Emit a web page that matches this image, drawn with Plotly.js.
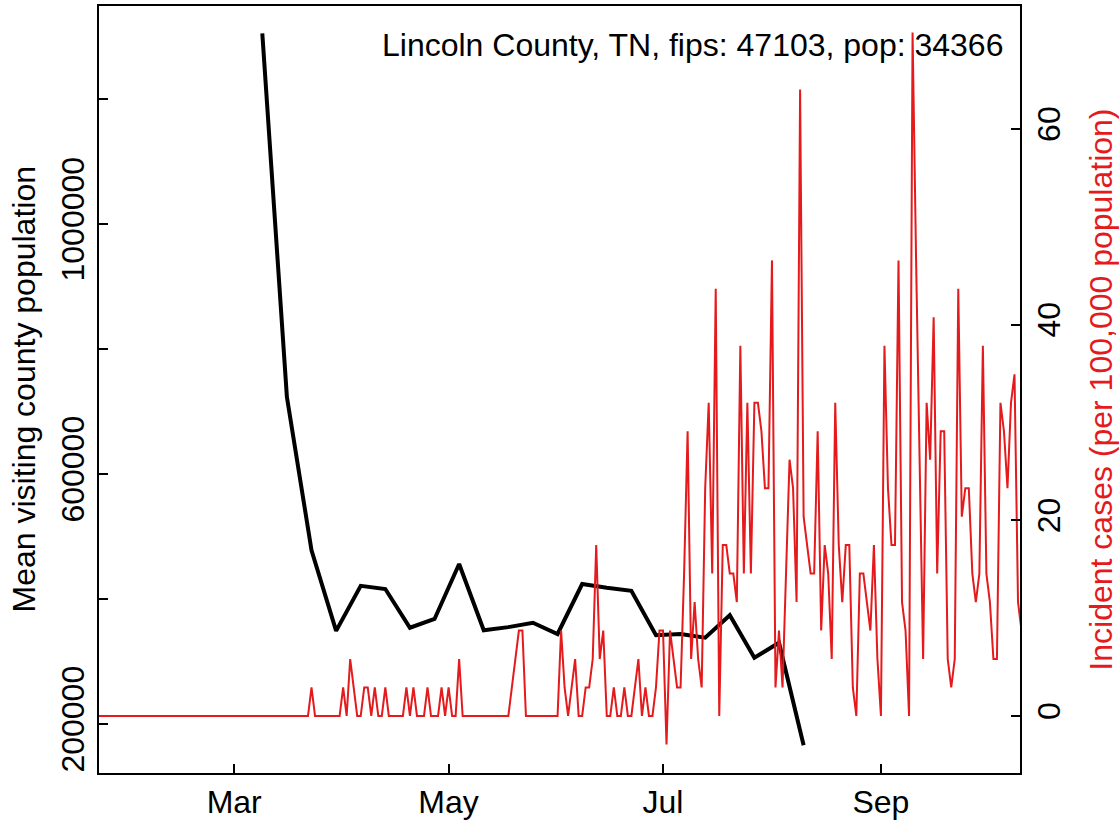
<!DOCTYPE html>
<html>
<head>
<meta charset="utf-8">
<script src="https://cdn.plot.ly/plotly-3.0.1.min.js"></script>
<style>html,body{margin:0;padding:0;background:#fff;}#chart{width:1119px;height:822px;}</style>
</head>
<body>
<div id="chart"></div>
<script>
// ---- Data ----
// Weekly mean visiting county population (black line, left axis)
var visitDates = ['2020-03-09','2020-03-16','2020-03-23','2020-03-30','2020-04-06','2020-04-13','2020-04-20','2020-04-27',
  '2020-05-04','2020-05-11','2020-05-18','2020-05-25','2020-06-01','2020-06-08','2020-06-15','2020-06-22','2020-06-29',
  '2020-07-06','2020-07-13','2020-07-20','2020-07-27','2020-08-03','2020-08-10'];
var visitPop = [1305000, 723000, 478000, 349000, 421000, 416000, 354000, 368000,
  456000, 350000, 355000, 362000, 344000, 424000, 418000, 413000, 342000,
  344000, 338000, 374000, 306000, 330000, 166000];

// Daily incident cases per 100,000 population (red line, right axis), by month
var caseStartJan = '2020-01-22';
var casesJan = [0,0,0,0,0,0,0,0,0,0];
var casesFeb = [0,0,0,0,0,0,0,0,0,0,0,0,0,0,0,0,0,0,0,0,0,0,0,0,0,0,0,0,0];
var casesMar = [0,0,0,0,0,0,0,0,0,0,0,0,0,0,0,0,0,0,0,0,0,0,2.91,0,0,0,0,0,0,0,0];
var casesApr = [2.91,0,5.82,2.91,0,0,2.91,2.91,0,2.91,0,0,2.91,0,0,0,0,0,2.91,0,2.91,0,0,0,2.91,0,0,0,2.91,0];
var casesMay = [2.91,0,0,5.82,0,0,0,0,0,0,0,0,0,0,0,0,0,0,2.91,5.82,8.73,8.73,0,0,0,0,0,0,0,0,0];
var casesJun = [0,8.73,2.91,0,2.91,5.82,0,0,2.91,2.91,5.82,17.46,5.82,8.73,0,0,2.91,0,0,2.91,0,0,2.91,5.82,0,2.91,0,0,2.91,8.73];
var casesJul = [8.73,-2.91,8.73,5.82,2.91,2.91,14.55,29.10,5.82,11.64,5.82,2.91,23.28,32.01,14.55,43.65,0,17.46,17.46,14.55,14.55,11.64,37.83,14.55,32.01,14.55,32.01,32.01,29.10,23.28,23.28];
var casesAug = [46.56,2.91,8.73,2.91,14.55,26.19,23.28,11.64,64.02,20.37,17.46,14.55,14.55,29.10,8.73,17.46,14.55,5.82,32.01,17.46,11.64,17.46,17.46,2.91,0,14.55,14.55,11.64,8.73,17.46,5.82];
var casesSep = [0,37.83,23.28,17.46,17.46,46.56,11.64,8.73,0,69.84,46.56,26.19,5.82,32.01,26.19,40.74,14.55,29.10,29.10,5.82,2.91,5.82,43.65,20.37,23.28,23.28,14.55,11.64,14.55,37.83];
var casesOct = [14.55,11.64,5.82,5.82,32.01,29.10,23.28,32.01,34.92,11.64,8.73];

// Axis tick labels
var xTickVals = ['2020-03-01','2020-05-01','2020-07-01','2020-09-01'];
var xTickText = ['Mar','May','Jul','Sep'];
var yTickVals = [200000,400000,600000,800000,1000000,1200000];
var yTickText = ['200000','','600000','','1000000',''];
var y2TickVals = [0,20,40,60];
var y2TickText = ['0','20','40','60'];

var titleText = 'Lincoln County, TN, fips: 47103, pop: 34366';
var yTitle = 'Mean visiting county population';
var y2Title = 'Incident cases (per 100,000 population)';

// ---- Build daily date list for the case series ----
var caseValues = [].concat(casesJan, casesFeb, casesMar, casesApr, casesMay, casesJun, casesJul, casesAug, casesSep, casesOct);
var caseDates = [];
(function(){
  var p = caseStartJan.split('-');
  var t0 = Date.UTC(+p[0], +p[1]-1, +p[2]);
  for (var i = 0; i < caseValues.length; i++) {
    caseDates.push(new Date(t0 + i*86400000).toISOString().slice(0,10));
  }
})();

var FONT = 'Liberation Sans, Arial, Helvetica, sans-serif';
var RED = '#E41A1C';
var FS = 32;

var traces = [
  {x: visitDates, y: visitPop, type: 'scatter', mode: 'lines', line: {color: '#000', width: 4}, yaxis: 'y', xaxis: 'x', hoverinfo: 'x+y'},
  {x: caseDates, y: caseValues, type: 'scatter', mode: 'lines', line: {color: RED, width: 2}, yaxis: 'y2', xaxis: 'x', hoverinfo: 'x+y'}
];

var axisCommon = {
  showgrid: false, zeroline: false, showline: true, linecolor: '#000', linewidth: 2,
  ticks: 'inside', ticklen: 9, tickwidth: 2, tickcolor: '#000',
  tickfont: {family: FONT, size: FS, color: '#000'}
};

var layout = {
  width: 1119, height: 822,
  margin: {l: 99, r: 99, t: 6, b: 49, pad: 0},
  paper_bgcolor: '#fff', plot_bgcolor: '#fff',
  showlegend: false,
  xaxis: Object.assign({}, axisCommon, {
    type: 'date', range: ['2020-01-22 13:00', '2020-10-10 13:30'],
    tickmode: 'array', tickvals: xTickVals, ticktext: xTickText, mirror: true
  }),
  yaxis: Object.assign({}, axisCommon, {
    range: [121600, 1348800], tickmode: 'array', tickvals: yTickVals, ticktext: yTickText,
    tickangle: -90, mirror: true
  }),
  yaxis2: Object.assign({}, axisCommon, {
    overlaying: 'y', side: 'right', range: [-5.83, 72.56],
    tickmode: 'array', tickvals: y2TickVals, ticktext: y2TickText, tickangle: -90
  }),
  annotations: [
    {text: titleText, xref: 'paper', yref: 'paper', x: 0.9837, y: 0.949, xanchor: 'right', yanchor: 'middle',
     showarrow: false, font: {family: FONT, size: FS, color: '#000'}},
    {text: yTitle, xref: 'paper', yref: 'paper', x: -0.0825, y: 0.5, xanchor: 'center', yanchor: 'middle',
     textangle: -90, showarrow: false, font: {family: FONT, size: FS, color: '#000'}},
    {text: y2Title, xref: 'paper', yref: 'paper', x: 1.087, y: 0.5, xanchor: 'center', yanchor: 'middle',
     textangle: -90, showarrow: false, font: {family: FONT, size: FS, color: RED}}
  ]
};

Plotly.newPlot('chart', traces, layout, {staticPlot: true, displayModeBar: false});
</script>
</body>
</html>
